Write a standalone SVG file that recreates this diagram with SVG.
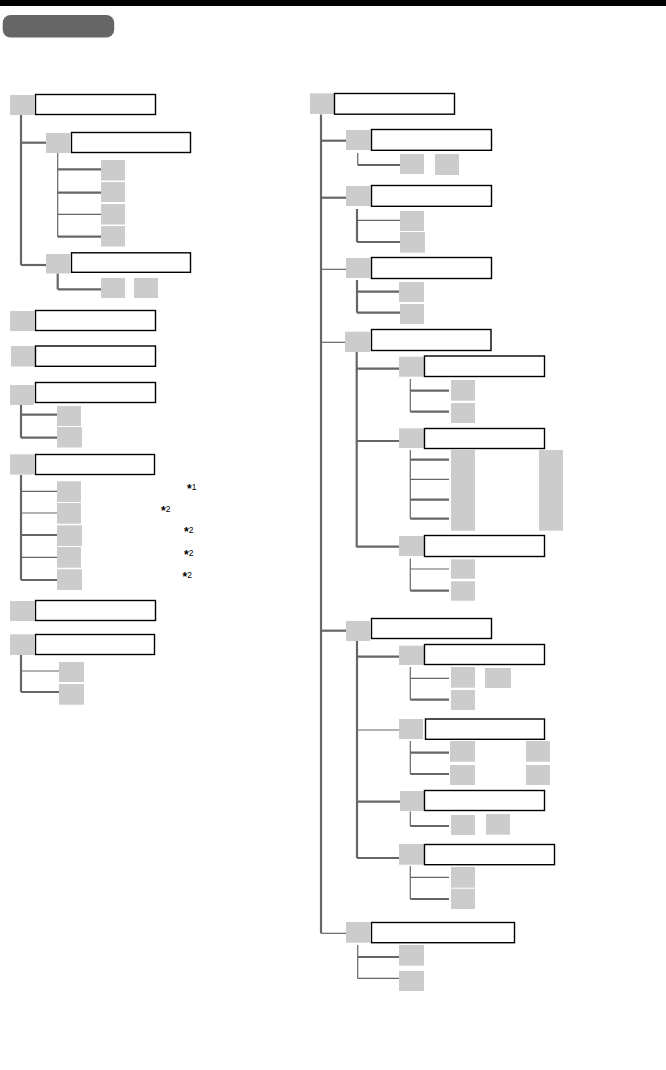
<svg xmlns="http://www.w3.org/2000/svg" width="666" height="1070" viewBox="0 0 666 1070">
<style>
.g{fill:#cccccc}
.b{fill:#ffffff;stroke:#000000;stroke-width:1.4}
.k{stroke:#666666;stroke-width:2.2;fill:none}
.t{stroke:#666666;stroke-width:1.2;fill:none}
.m{font-family:"Liberation Sans",Arial,sans-serif;font-size:8.5px;fill:#000000}
.s{font-size:12px;font-weight:bold}
</style>
<rect x="0" y="0" width="666" height="6" fill="#000000"/>
<rect id="title-pill" x="2.7" y="15" width="111.5" height="22.5" rx="8" fill="#666666"/>

<g id="connectors">
<line class="k" x1="21" y1="115" x2="21" y2="265"/>
<line class="k" x1="21" y1="142.7" x2="46" y2="142.7"/>
<line class="k" x1="21" y1="265" x2="46" y2="265"/>
<line class="t" x1="57.7" y1="153" x2="57.7" y2="236.7"/>
<line class="k" x1="57.7" y1="169.3" x2="101" y2="169.3"/>
<line class="k" x1="57.7" y1="192.7" x2="101" y2="192.7"/>
<line class="t" x1="57.7" y1="214.3" x2="101" y2="214.3"/>
<line class="k" x1="57.7" y1="236.7" x2="101" y2="236.7"/>
<line class="k" x1="57.7" y1="273.5" x2="57.7" y2="289.3"/>
<line class="k" x1="57.7" y1="289.3" x2="101" y2="289.3"/>
<line class="k" x1="21" y1="405" x2="21" y2="437.7"/>
<line class="k" x1="21" y1="414.7" x2="57" y2="414.7"/>
<line class="k" x1="21" y1="437.7" x2="57" y2="437.7"/>
<line class="k" x1="21" y1="475" x2="21" y2="580"/>
<line class="t" x1="21" y1="491.3" x2="57" y2="491.3"/>
<line class="t" x1="21" y1="513" x2="57" y2="513"/>
<line class="k" x1="21" y1="535" x2="57" y2="535"/>
<line class="t" x1="21" y1="557.3" x2="57" y2="557.3"/>
<line class="k" x1="21" y1="580" x2="57" y2="580"/>
<line class="k" x1="21" y1="655" x2="21" y2="692"/>
<line class="t" x1="21" y1="671" x2="59" y2="671"/>
<line class="k" x1="21" y1="692" x2="59" y2="692"/>

<line class="k" x1="321" y1="114.5" x2="321" y2="933.3"/>
<line class="k" x1="321" y1="140.7" x2="346" y2="140.7"/>
<line class="k" x1="321" y1="197.7" x2="346" y2="197.7"/>
<line class="t" x1="321" y1="269.3" x2="346" y2="269.3"/>
<line class="t" x1="321" y1="342.3" x2="345" y2="342.3"/>
<line class="k" x1="321" y1="630.7" x2="346" y2="630.7"/>
<line class="t" x1="321" y1="933.3" x2="346" y2="933.3"/>
<line class="t" x1="357.7" y1="153" x2="357.7" y2="165"/>
<line class="k" x1="357.7" y1="165" x2="400" y2="165"/>
<line class="k" x1="357" y1="209" x2="357" y2="242"/>
<line class="t" x1="357" y1="220.3" x2="400" y2="220.3"/>
<line class="k" x1="357" y1="242" x2="400" y2="242"/>
<line class="k" x1="357" y1="280" x2="357" y2="312.7"/>
<line class="k" x1="357" y1="291.7" x2="399" y2="291.7"/>
<line class="k" x1="357" y1="312.7" x2="400" y2="312.7"/>
<line class="k" x1="356.7" y1="352" x2="356.7" y2="547.3"/>
<line class="k" x1="356.7" y1="368.7" x2="399" y2="368.7"/>
<line class="k" x1="356.7" y1="441" x2="399" y2="441"/>
<line class="k" x1="356.7" y1="546.7" x2="399" y2="546.7"/>
<line class="t" x1="410.3" y1="379" x2="410.3" y2="411.7"/>
<line class="k" x1="410.3" y1="390.7" x2="449" y2="390.7"/>
<line class="k" x1="410.3" y1="411.7" x2="449" y2="411.7"/>
<line class="t" x1="410.3" y1="450" x2="410.3" y2="518.7"/>
<line class="k" x1="410.3" y1="459.7" x2="449" y2="459.7"/>
<line class="t" x1="410.3" y1="479.3" x2="449" y2="479.3"/>
<line class="k" x1="410.3" y1="499.7" x2="449" y2="499.7"/>
<line class="k" x1="410.3" y1="518.7" x2="449" y2="518.7"/>
<line class="t" x1="410.3" y1="558.5" x2="410.3" y2="590.7"/>
<line class="t" x1="410.3" y1="569" x2="449" y2="569"/>
<line class="k" x1="410.3" y1="590.7" x2="449" y2="590.7"/>
<line class="k" x1="357" y1="641" x2="357" y2="858"/>
<line class="k" x1="357" y1="656.7" x2="399" y2="656.7"/>
<line class="t" x1="357" y1="730" x2="399" y2="730"/>
<line class="k" x1="357" y1="801.7" x2="400" y2="801.7"/>
<line class="k" x1="357" y1="858" x2="399" y2="858"/>
<line class="t" x1="410.3" y1="667" x2="410.3" y2="699.7"/>
<line class="t" x1="410.3" y1="678.3" x2="449" y2="678.3"/>
<line class="k" x1="410.3" y1="699.7" x2="449" y2="699.7"/>
<line class="t" x1="410.3" y1="741" x2="410.3" y2="774"/>
<line class="k" x1="410.3" y1="752.7" x2="449" y2="752.7"/>
<line class="k" x1="410.3" y1="774" x2="449" y2="774"/>
<line class="t" x1="410.3" y1="811.5" x2="410.3" y2="826"/>
<line class="k" x1="410.3" y1="826" x2="449" y2="826"/>
<line class="t" x1="410.3" y1="866" x2="410.3" y2="899"/>
<line class="t" x1="410.3" y1="877.3" x2="449" y2="877.3"/>
<line class="k" x1="410.3" y1="899" x2="449" y2="899"/>
<line class="t" x1="357.7" y1="945" x2="357.7" y2="978.3"/>
<line class="k" x1="357.7" y1="957" x2="399" y2="957"/>
<line class="t" x1="357.7" y1="978.3" x2="399" y2="978.3"/>
</g>

<g id="L1"><rect class="g" x="10" y="95" width="24" height="20"/><rect class="b" x="35.5" y="94.5" width="120" height="20"/></g>
<g id="L1a"><rect class="g" x="46" y="133" width="24" height="20"/><rect class="b" x="71.5" y="132.5" width="119" height="20"/></g>
<g id="L1a-leaves">
<rect class="g" x="101" y="160" width="24" height="20.5"/>
<rect class="g" x="101" y="182" width="24" height="20"/>
<rect class="g" x="101" y="204" width="24" height="20.5"/>
<rect class="g" x="101" y="226" width="24" height="20.5"/>
</g>
<g id="L1b"><rect class="g" x="46" y="254" width="24" height="19.5"/><rect class="b" x="71.5" y="252.8" width="119" height="19.5"/></g>
<g id="L1b-leaves">
<rect class="g" x="101" y="278" width="24" height="20"/>
<rect class="g" x="134" y="278" width="24" height="20"/>
</g>
<g id="L2"><rect class="g" x="10" y="311" width="24" height="20"/><rect class="b" x="35.5" y="310.5" width="120" height="20"/></g>
<g id="L3"><rect class="g" x="11" y="346" width="24" height="20.5"/><rect class="b" x="35.5" y="346" width="120" height="20.3"/></g>
<g id="L4"><rect class="g" x="10" y="385" width="24" height="20"/><rect class="b" x="35.5" y="382.5" width="120" height="20"/></g>
<g id="L4-leaves">
<rect class="g" x="57" y="406" width="24" height="20"/>
<rect class="g" x="57" y="427" width="25" height="20.5"/>
</g>
<g id="L5"><rect class="g" x="10" y="454.3" width="24" height="20.3"/><rect class="b" x="35.5" y="454.5" width="119" height="20"/></g>
<g id="L5-leaves">
<rect class="g" x="57" y="481.3" width="24" height="20.7"/>
<rect class="g" x="57" y="503" width="24" height="20.7"/>
<rect class="g" x="57" y="525.3" width="25" height="20.7"/>
<rect class="g" x="57" y="547" width="24" height="20.7"/>
<rect class="g" x="57" y="569.3" width="25" height="20.7"/>
</g>
<g id="notes" class="m">
<text x="187" y="490"><tspan class="s" dy="3">*</tspan><tspan dy="-3">1</tspan></text>
<text x="161" y="512.3"><tspan class="s" dy="3">*</tspan><tspan dy="-3">2</tspan></text>
<text x="184" y="533.3"><tspan class="s" dy="3">*</tspan><tspan dy="-3">2</tspan></text>
<text x="184" y="556.3"><tspan class="s" dy="3">*</tspan><tspan dy="-3">2</tspan></text>
<text x="182.5" y="578.3"><tspan class="s" dy="3">*</tspan><tspan dy="-3">2</tspan></text>
</g>
<g id="L6"><rect class="g" x="10" y="601" width="24" height="20"/><rect class="b" x="35.5" y="600.5" width="120" height="20"/></g>
<g id="L7"><rect class="g" x="10" y="634.3" width="24" height="20.7"/><rect class="b" x="35.5" y="634.5" width="119" height="20"/></g>
<g id="L7-leaves">
<rect class="g" x="59" y="662" width="25" height="20"/>
<rect class="g" x="59" y="684" width="25" height="20.7"/>
</g>

<g id="R"><rect class="g" x="310" y="93.3" width="24" height="20.7"/><rect class="b" x="334.5" y="93.5" width="120" height="20.7"/></g>
<g id="RA"><rect class="g" x="346" y="130" width="24.5" height="20"/><rect class="b" x="371.5" y="129.5" width="120" height="20.8"/></g>
<g id="RA-leaves">
<rect class="g" x="400" y="154" width="24" height="20"/>
<rect class="g" x="435" y="154" width="24" height="21"/>
</g>
<g id="RB"><rect class="g" x="346" y="186" width="24.5" height="20"/><rect class="b" x="371.5" y="185.5" width="120" height="20.8"/></g>
<g id="RB-leaves">
<rect class="g" x="400" y="211" width="24" height="20"/>
<rect class="g" x="400" y="232" width="25" height="20.7"/>
</g>
<g id="RC"><rect class="g" x="346" y="258" width="24.5" height="20"/><rect class="b" x="371.5" y="257.5" width="120" height="21"/></g>
<g id="RC-leaves">
<rect class="g" x="399" y="282" width="25" height="20"/>
<rect class="g" x="400" y="304" width="24" height="20"/>
</g>
<g id="RD"><rect class="g" x="345" y="331.7" width="25" height="20.3"/><rect class="b" x="371.5" y="329.5" width="119.5" height="21"/></g>
<g id="RD1"><rect class="g" x="399" y="356.7" width="25" height="20"/><rect class="b" x="424.5" y="356" width="120" height="20.5"/></g>
<g id="RD1-leaves">
<rect class="g" x="451" y="380" width="24" height="20.7"/>
<rect class="g" x="451" y="403" width="24" height="20"/>
</g>
<g id="RD2"><rect class="g" x="399" y="428.3" width="25" height="19.7"/><rect class="b" x="424.5" y="428.5" width="120" height="20"/></g>
<g id="RD2-leaves">
<rect class="g" x="451" y="450" width="24" height="80.7"/>
<rect class="g" x="539" y="450" width="24" height="80.7"/>
</g>
<g id="RD3"><rect class="g" x="399" y="536" width="25" height="20"/><rect class="b" x="424.5" y="535.5" width="120" height="21"/></g>
<g id="RD3-leaves">
<rect class="g" x="451" y="559.3" width="24" height="19.4"/>
<rect class="g" x="451" y="581.3" width="24" height="19.4"/>
</g>
<g id="RE"><rect class="g" x="346" y="621" width="24" height="20"/><rect class="b" x="371.5" y="618.5" width="120" height="20"/></g>
<g id="RE1"><rect class="g" x="399" y="645.7" width="25" height="19.3"/><rect class="b" x="424.5" y="644.5" width="120" height="20"/></g>
<g id="RE1-leaves">
<rect class="g" x="451" y="667" width="24" height="20.7"/>
<rect class="g" x="485" y="668" width="26" height="20"/>
<rect class="g" x="451" y="690" width="24" height="20"/>
</g>
<g id="RE2"><rect class="g" x="399" y="719" width="24" height="20"/><rect class="b" x="425.5" y="719" width="119" height="20.3"/></g>
<g id="RE2-leaves">
<rect class="g" x="450" y="741" width="25" height="20.7"/>
<rect class="g" x="526" y="741" width="24" height="20.7"/>
<rect class="g" x="450" y="765" width="25" height="20"/>
<rect class="g" x="526" y="765" width="24" height="20"/>
</g>
<g id="RE3"><rect class="g" x="400" y="791" width="24" height="20"/><rect class="b" x="424.5" y="790.5" width="120" height="20"/></g>
<g id="RE3-leaves">
<rect class="g" x="451" y="815" width="24" height="20"/>
<rect class="g" x="486" y="814" width="24" height="20.7"/>
</g>
<g id="RE4"><rect class="g" x="399" y="844" width="25" height="20.7"/><rect class="b" x="424.5" y="844.5" width="130" height="20.2"/></g>
<g id="RE4-leaves">
<rect class="g" x="451" y="867" width="24" height="20.7"/>
<rect class="g" x="451" y="888.7" width="24" height="20.3"/>
</g>
<g id="RF"><rect class="g" x="346" y="922" width="24" height="20.7"/><rect class="b" x="371.5" y="922.5" width="143" height="20.2"/></g>
<g id="RF-leaves">
<rect class="g" x="399" y="945" width="25" height="20.7"/>
<rect class="g" x="399" y="971" width="25" height="20"/>
</g>
</svg>
